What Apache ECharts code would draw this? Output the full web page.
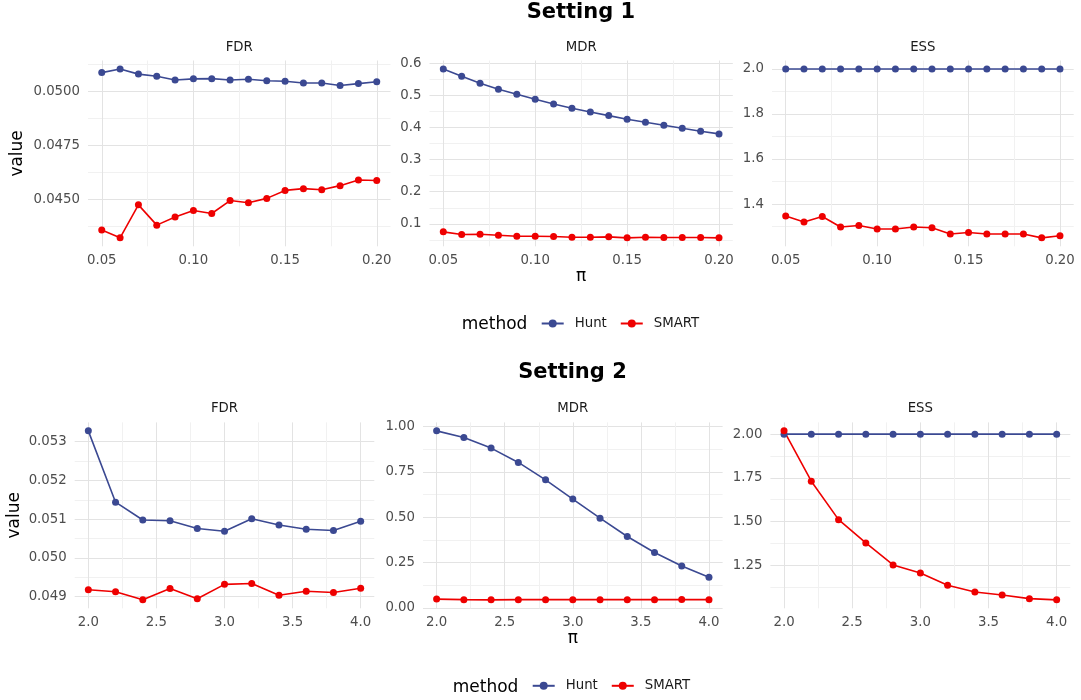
<!DOCTYPE html>
<html><head><meta charset="utf-8">
<script src="https://cdn.jsdelivr.net/npm/echarts@6/dist/echarts.min.js"></script>
<style>html,body{margin:0;padding:0;background:#fff}#c{width:1081px;height:700px}</style>
</head><body><div id="c"></div>
<script>
// ---------------- data ----------------
const methods = ['Hunt', 'SMART'];
const metrics = ['FDR', 'MDR', 'ESS'];
const settingTitles = ['Setting 1', 'Setting 2'];

const pi1 = [0.05,0.06,0.07,0.08,0.09,0.10,0.11,0.12,0.13,0.14,0.15,0.16,0.17,0.18,0.19,0.20];
const fdr1Hunt  = [0.05088,0.05105,0.05081,0.05071,0.05054,0.05059,0.05060,0.05054,0.05057,0.05050,0.05048,0.05040,0.05040,0.05028,0.05037,0.05046];
const fdr1Smart = [0.04358,0.04322,0.04475,0.04381,0.04419,0.04449,0.04435,0.04495,0.04485,0.04505,0.04542,0.04550,0.04545,0.04564,0.04590,0.04588];
const mdr1Hunt  = [0.5824,0.5595,0.5378,0.5191,0.5035,0.4880,0.4734,0.4600,0.4485,0.4371,0.4257,0.4164,0.4071,0.3977,0.3884,0.3801];
const mdr1Smart = [0.0751,0.0668,0.0678,0.0647,0.0616,0.0616,0.0606,0.0585,0.0585,0.0595,0.0564,0.0585,0.0575,0.0575,0.0575,0.0564];
const ess1Hunt  = [2.0,2.0,2.0,2.0,2.0,2.0,2.0,2.0,2.0,2.0,2.0,2.0,2.0,2.0,2.0,2.0];
const ess1Smart = [1.347,1.320,1.345,1.298,1.305,1.289,1.289,1.298,1.295,1.267,1.274,1.267,1.267,1.267,1.250,1.259];

const pi2 = [2.0,2.2,2.4,2.6,2.8,3.0,3.2,3.4,3.6,3.8,4.0];
const fdr2Hunt  = [0.05328,0.05144,0.05098,0.05096,0.05076,0.05069,0.05101,0.05085,0.05074,0.05071,0.05095];
const fdr2Smart = [0.04918,0.04913,0.04892,0.04921,0.04895,0.04932,0.04934,0.04904,0.04914,0.04911,0.04922];
const mdr2Hunt  = [0.976,0.939,0.881,0.802,0.706,0.600,0.495,0.394,0.306,0.231,0.169];
const mdr2Smart = [0.049,0.046,0.045,0.046,0.046,0.046,0.046,0.046,0.046,0.047,0.046];
const ess2Hunt  = [2.0,2.0,2.0,2.0,2.0,2.0,2.0,2.0,2.0,2.0,2.0];
const ess2Smart = [2.019,1.731,1.511,1.378,1.252,1.206,1.135,1.097,1.080,1.059,1.052];

// tick labels (major breaks)
const xTicks1 = [0.05,0.10,0.15,0.20];
const xTicks2 = [2.0,2.5,3.0,3.5,4.0];
const yTicksFDR1 = [0.045,0.0475,0.05];
const yTicksMDR1 = [0.1,0.2,0.3,0.4,0.5,0.6];
const yTicksESS1 = [1.4,1.6,1.8,2.0];
const yTicksFDR2 = [0.049,0.050,0.051,0.052,0.053];
const yTicksMDR2 = [0.00,0.25,0.50,0.75,1.00];
const yTicksESS2 = [1.25,1.50,1.75,2.00];

// ---------------- layout / style ----------------
const FONT = 'DejaVu Sans';
const COLORS = {Hunt: '#3B4992', SMART: '#EE0000'};
const rows = [
  {top: 60.5, height: 185.8, lefts: [88, 429.5, 772], widths: [302.5, 303.3, 301.7], center: 580.9,
   titleY: 12.5, stripY: 48, legendY: 325, methodX: 461.7, legendX: 540.7, yNameGap: 61.5,
   x: pi1, xTicks: xTicks1, xDec: 2,
   panels: [
     {Hunt: fdr1Hunt, SMART: fdr1Smart, ticks: yTicksFDR1, dec: 4},
     {Hunt: mdr1Hunt, SMART: mdr1Smart, ticks: yTicksMDR1, dec: 1},
     {Hunt: ess1Hunt, SMART: ess1Smart, ticks: yTicksESS1, dec: 1}]},
  {top: 422.4, height: 185.9, lefts: [74.7, 423, 770.4], widths: [299.6, 299.6, 299.9], center: 572.5,
   titleY: 373, stripY: 409, legendY: 687.3, methodX: 452.7, legendX: 531.7, yNameGap: 52,
   x: pi2, xTicks: xTicks2, xDec: 1,
   panels: [
     {Hunt: fdr2Hunt, SMART: fdr2Smart, ticks: yTicksFDR2, dec: 3},
     {Hunt: mdr2Hunt, SMART: mdr2Smart, ticks: yTicksMDR2, dec: 2},
     {Hunt: ess2Hunt, SMART: ess2Smart, ticks: yTicksESS2, dec: 2}]}
];

function expand(vals) {
  const lo = Math.min(...vals), hi = Math.max(...vals), r = hi - lo;
  return [lo - 0.05 * r, hi + 0.05 * r];
}
function gridTicks(majors, lo, hi) {
  const step = majors[1] - majors[0];
  const all = [];
  majors.forEach(m => all.push({v: m, major: true}));
  for (let i = -1; i < majors.length; i++) {
    const v = (i < 0 ? majors[0] - step / 2 : majors[i] + step / 2);
    all.push({v: +v.toFixed(8), major: false});
  }
  const eps = (hi - lo) * 1e-6;
  const list = all.filter(t => t.v >= lo - eps && t.v <= hi + eps).sort((a, b) => a.v - b.v);
  return {values: list.map(t => t.v), colors: list.map(t => t.major ? '#e3e3e3' : '#f1f1f1')};
}

const grids = [], xAxes = [], yAxes = [], series = [], graphics = [], legends = [];
rows.forEach((row, ri) => {
  const [xlo, xhi] = expand(row.x);
  const xg = gridTicks(row.xTicks, xlo, xhi);
  row.panels.forEach((p, pi) => {
    const gi = grids.length;
    grids.push({left: row.lefts[pi], top: row.top, width: row.widths[pi], height: row.height, containLabel: false});
    const [ylo, yhi] = expand(p.Hunt.concat(p.SMART));
    const yg = gridTicks(p.ticks, ylo, yhi);
    xAxes.push({
      type: 'value', gridIndex: gi, min: xlo, max: xhi,
      axisLine: {show: false},
      axisTick: {show: false, customValues: xg.values},
      axisLabel: {customValues: row.xTicks, formatter: v => v.toFixed(row.xDec), color: '#4d4d4d',
                  fontSize: 13.3, fontFamily: FONT, margin: 8},
      splitLine: {show: true, lineStyle: {color: xg.colors, width: 1}},
      name: pi === 1 ? 'π' : '', nameLocation: 'middle', nameGap: 20,
      nameTextStyle: {fontSize: 17, fontFamily: FONT, color: '#000'}
    });
    yAxes.push({
      type: 'value', gridIndex: gi, min: ylo, max: yhi,
      axisLine: {show: false},
      axisTick: {show: false, customValues: yg.values},
      axisLabel: {customValues: p.ticks, formatter: v => v.toFixed(p.dec), color: '#4d4d4d',
                  fontSize: 13.3, fontFamily: FONT, margin: 8},
      splitLine: {show: true, lineStyle: {color: yg.colors, width: 1}},
      name: pi === 0 ? 'value' : '', nameLocation: 'middle', nameRotate: 90, nameGap: row.yNameGap,
      nameTextStyle: {fontSize: 17, fontFamily: FONT, color: '#000'}
    });
    methods.forEach(m => {
      series.push({
        type: 'line', name: m, xAxisIndex: gi, yAxisIndex: gi,
        data: row.x.map((x, k) => [x, p[m][k]]),
        symbol: 'circle', symbolSize: 7, showSymbol: true,
        lineStyle: {color: COLORS[m], width: 1.6},
        itemStyle: {color: COLORS[m]},
        emphasis: {disabled: true}, animation: false
      });
    });
    graphics.push({type: 'text', x: row.lefts[pi] + row.widths[pi] / 2, y: row.stripY,
      style: {text: metrics[pi], font: '13.3px "' + FONT + '"', fill: '#1a1a1a',
              textAlign: 'center', textVerticalAlign: 'middle', align: 'center', verticalAlign: 'middle'}});
  });
  graphics.push({type: 'text', x: row.center, y: row.titleY,
    style: {text: settingTitles[ri], font: 'bold 21px "' + FONT + '"', fill: '#000',
            textAlign: 'center', textVerticalAlign: 'middle', align: 'center', verticalAlign: 'middle'}});
  graphics.push({type: 'text', x: row.methodX, y: row.legendY,
    style: {text: 'method', font: '17px "' + FONT + '"', fill: '#000',
            textAlign: 'left', textVerticalAlign: 'middle', align: 'left', verticalAlign: 'middle'}});
  legends.push({
    data: methods, left: row.legendX, top: row.legendY - 8, orient: 'horizontal',
    itemWidth: 22, itemHeight: 10, itemGap: 13, padding: 0,
    textStyle: {fontSize: 13.3, fontFamily: FONT, color: '#1a1a1a', padding: [0, 0, 0, 6]},
    selectedMode: false
  });
});

const chart = echarts.init(document.getElementById('c'), null, {renderer: 'canvas'});
chart.setOption({
  backgroundColor: '#fff',
  animation: false,
  grid: grids, xAxis: xAxes, yAxis: yAxes, series: series,
  legend: legends, graphic: graphics, tooltip: {show: false}
});
</script></body></html>
